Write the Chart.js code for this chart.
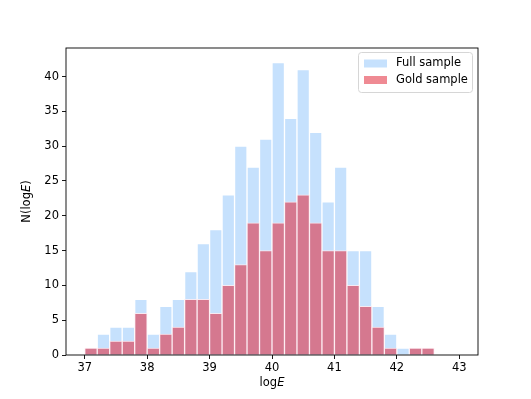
<!DOCTYPE html>
<html>
<head>
<meta charset="utf-8">
<script src="https://cdn.jsdelivr.net/npm/chart.js@4"></script>
<style>
  html, body { margin: 0; padding: 0; background: #fff; }
  #myCanvas { display: block; }
</style>
</head>
<body>
<canvas id="myCanvas" width="531" height="399"></canvas>
<script>
const canvas = document.getElementById("myCanvas");
const ctx = canvas.getContext("2d");

// histogram bins: left edges, width 0.2
const binStart = 37.0;
const binWidth = 0.2;
const fullCounts = [1, 3, 4, 4, 8, 3, 7, 8, 12, 16, 18, 23, 30, 27, 31, 42, 34, 41, 32, 22, 27, 15, 15, 7, 3, 1, 1, 1, 0, 0];
const goldCounts = [1, 1, 2, 2, 6, 1, 3, 4, 8, 8, 6, 10, 13, 19, 15, 19, 22, 23, 19, 15, 15, 10, 7, 4, 1, 0, 1, 1, 0, 0];
const xTicks = [37, 38, 39, 40, 41, 42, 43];
const yTicks = [0, 5, 10, 15, 20, 25, 30, 35, 40];
const seriesNames = ["Full sample", "Gold sample"];

const binCenters = fullCounts.map((_, i) => binStart + binWidth * (i + 0.5));
const toPoints = counts => counts.map((c, i) => ({ x: binCenters[i], y: c }));

const FONT = "DejaVu Sans";
const fullColor = "#c6e1fd";
const goldColor = "#d5788f";
const goldLegend = "#ef8a93";

// frame, axis labels and in-plot legend, drawn like matplotlib
const extras = {
    id: "extras",
    afterDraw(chart) {
        const c = chart.ctx;
        const a = chart.chartArea;
        c.save();
        c.strokeStyle = "#000";
        c.lineWidth = 0.9;
        c.strokeRect(a.left, a.top, a.right - a.left, a.bottom - a.top);

        // x label: log + italic E
        c.fillStyle = "#000";
        c.textBaseline = "middle";
        c.font = "11.5px '" + FONT + "'";
        const w1 = c.measureText("log").width;
        c.font = "italic 11.5px '" + FONT + "'";
        const w2 = c.measureText("E").width;
        let x0 = (a.left + a.right) / 2 - (w1 + w2) / 2;
        c.textAlign = "left";
        c.font = "11.5px '" + FONT + "'";
        c.fillText("log", x0, 383);
        c.font = "italic 11.5px '" + FONT + "'";
        c.fillText("E", x0 + w1, 383);

        // y label: N(log E)
        c.translate(27, (a.top + a.bottom) / 2);
        c.rotate(-Math.PI / 2);
        const parts = [["N(log", false], ["E", true], [")", false]];
        let tw = 0;
        parts.forEach(p => {
            c.font = (p[1] ? "italic " : "") + "11.5px '" + FONT + "'";
            tw += c.measureText(p[0]).width;
        });
        let px = -tw / 2;
        parts.forEach(p => {
            c.font = (p[1] ? "italic " : "") + "11.5px '" + FONT + "'";
            c.fillText(p[0], px, 0);
            px += c.measureText(p[0]).width;
        });
        c.setTransform(1, 0, 0, 1, 0, 0);

        // legend box
        const lx = 358, ly = 52, lw = 114, lh = 40;
        c.fillStyle = "rgba(255,255,255,0.8)";
        c.strokeStyle = "#d6d6d6";
        c.lineWidth = 1;
        c.beginPath();
        c.roundRect(lx + 0.5, ly + 0.5, lw, lh, 3);
        c.fill();
        c.stroke();
        const swatches = [fullColor, goldLegend];
        const rows = [63.5, 80];
        c.font = "11.5px '" + FONT + "'";
        c.textAlign = "left";
        c.textBaseline = "middle";
        seriesNames.forEach((name, i) => {
            c.fillStyle = swatches[i];
            c.fillRect(364, rows[i] - 4, 23, 8);
            c.fillStyle = "#000";
            c.fillText(name, 396, rows[i]);
        });
        c.restore();
    }
};

const chart = new Chart(ctx, {
    type: "bar",
    data: {
        datasets: [
            {
                label: seriesNames[0],
                data: toPoints(fullCounts),
                backgroundColor: fullColor,
                borderColor: "rgba(255,255,255,0.85)",
                borderWidth: 1,
                order: 1
            },
            {
                label: seriesNames[1],
                data: toPoints(goldCounts),
                backgroundColor: goldColor,
                borderColor: "rgba(255,235,240,0.85)",
                borderWidth: 1,
                order: 0
            }
        ]
    },
    options: {
        responsive: false,
        animation: false,
        events: [],
        grouped: false,
        barPercentage: 1,
        categoryPercentage: 1,
        layout: {
            padding: { top: 48, left: 0, right: 53, bottom: 0 }
        },
        scales: {
            x: {
                type: "linear",
                offset: false,
                min: 36.7,
                max: 43.3,
                afterBuildTicks: s => { s.ticks = xTicks.map(v => ({ value: v })); },
                afterFit: s => { s.height = 44; },
                grid: { offset: false, drawOnChartArea: false, tickLength: 4, tickColor: "#000", lineWidth: 0.9 },
                border: { display: false },
                ticks: {
                    color: "#000",
                    padding: 2,
                    maxRotation: 0,
                    autoSkip: false,
                    font: { family: FONT, size: 11.5 }
                }
            },
            y: {
                min: 0,
                max: 44.1,
                afterBuildTicks: s => { s.ticks = yTicks.map(v => ({ value: v })); },
                afterFit: s => { s.width = 66; },
                grid: { drawOnChartArea: false, tickLength: 4, tickColor: "#000", lineWidth: 0.9 },
                border: { display: false },
                ticks: {
                    color: "#000",
                    padding: 3,
                    font: { family: FONT, size: 11.5 }
                }
            }
        },
        plugins: {
            legend: { display: false },
            tooltip: { enabled: false }
        }
    },
    plugins: [extras]
});
</script>
</body>
</html>
